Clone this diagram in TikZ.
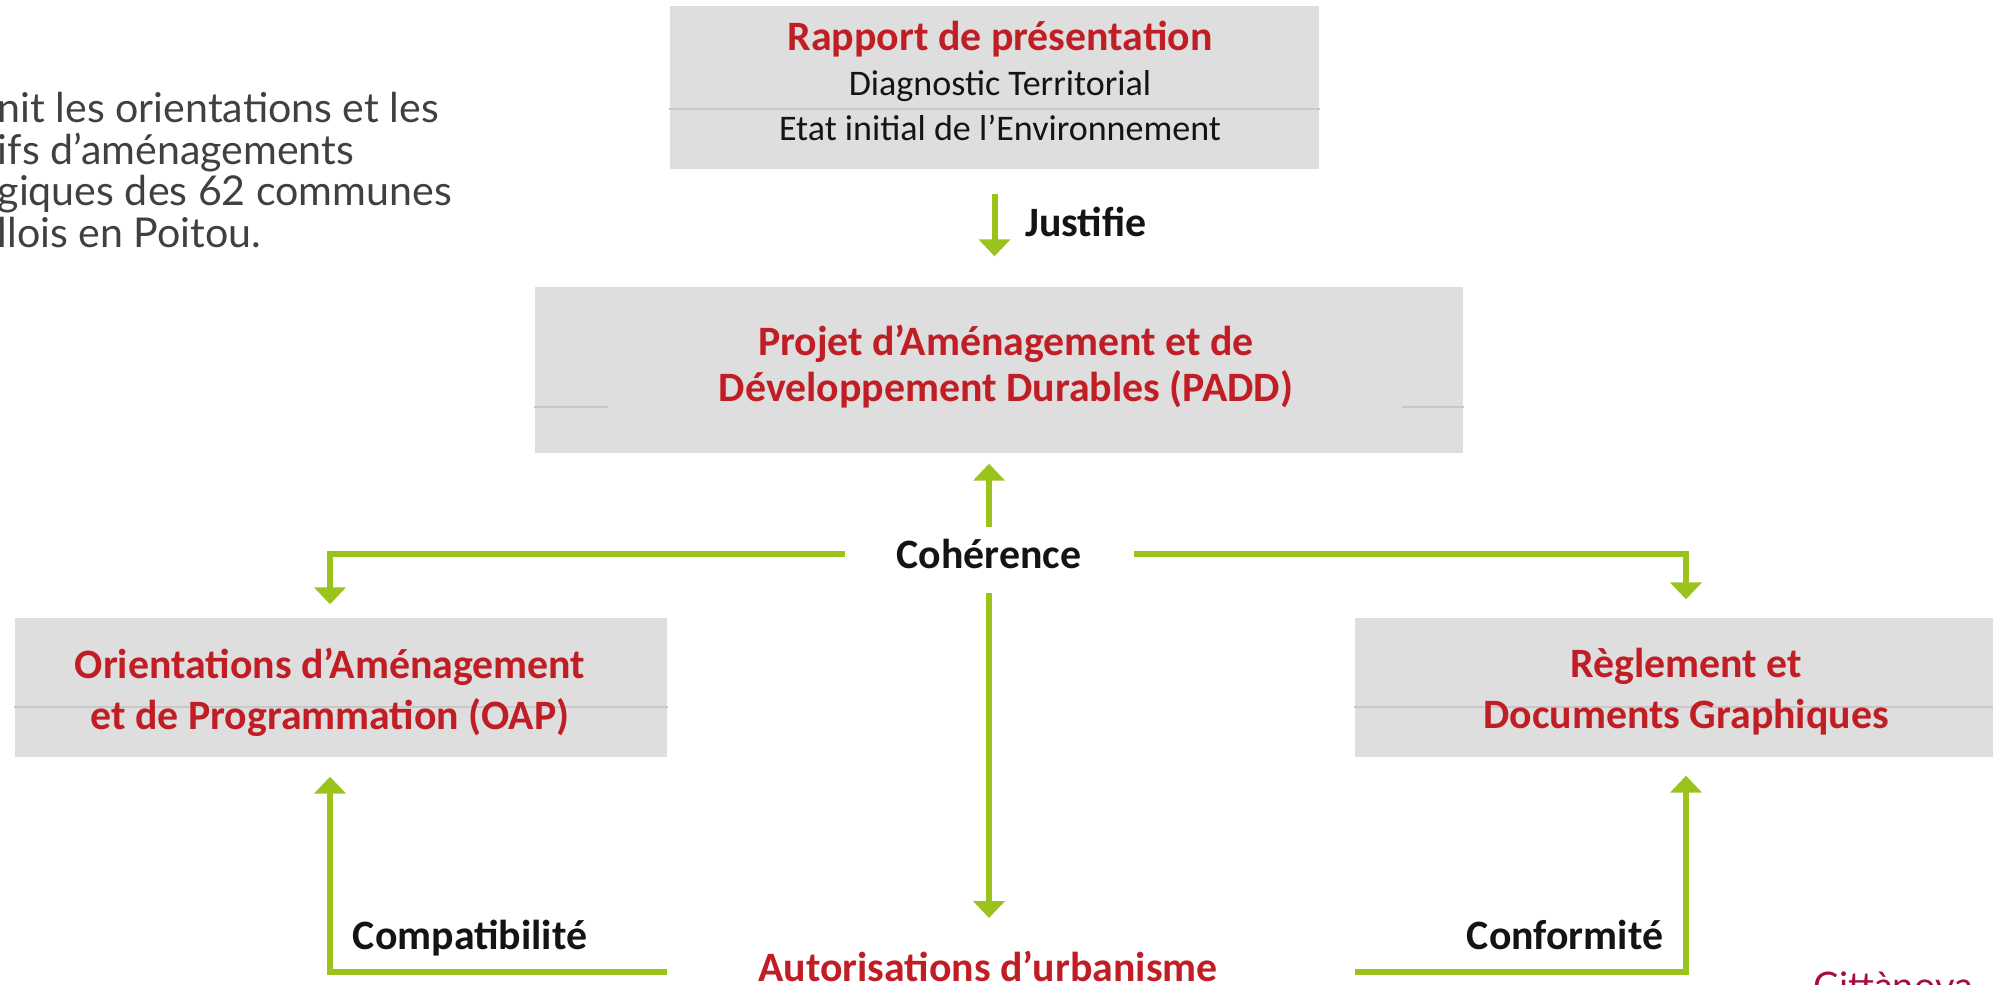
\documentclass[tikz,border=0pt]{standalone}
\usepackage{fontspec}
\setmainfont{Carlito}
\newfontfamily\latofont{Lato}
\usetikzlibrary{arrows.meta}

\definecolor{boxgray}{RGB}{222,222,222}
\definecolor{divgray}{RGB}{200,200,200}
\definecolor{titlered}{RGB}{192,30,36}
\definecolor{arrgreen}{RGB}{154,196,28}
\definecolor{lblblack}{RGB}{20,20,20}
\definecolor{introgray}{RGB}{64,64,64}
\definecolor{cittared}{RGB}{163,16,58}

\begin{document}
\begin{tikzpicture}[
    box/.style={fill=boxgray, inner sep=0pt, minimum height=1.39cm},
    title/.style={text=titlered, font=\bfseries\fontsize{11.9}{14.5}\selectfont, align=center, inner sep=0pt},
    lbl/.style={text=lblblack, font=\bfseries\fontsize{11.9}{14.5}\selectfont, inner sep=0pt},
    arr/.style={draw=arrgreen, line width=1.7pt, -{Triangle[width=8.8pt,length=4.8pt]}},
    divider/.style={draw=divgray, line width=0.6pt}
  ]
    \def\yb{-9.72}
    \useasboundingbox (0,0) rectangle (19.93,-9.85);
    \clip (0,0) rectangle (19.93,-9.85);

    \node[anchor=west, align=left, inner sep=0pt, text=introgray,
      font=\latofont\fontsize{11.7}{11.8}\selectfont] (intro) at (-0.03,-1.70)
      {nit les orientations et les\\ifs d’aménagements\\giques des 62 communes\\llois en Poitou.};

    \node[box, minimum width=6.49cm, minimum height=1.63cm] (rapport) at (9.945,-0.875) {};
    \draw[divider] (rapport.west |- 0,-1.09) -- (rapport.east |- 0,-1.09);
    \node[align=center, inner sep=0pt, text=lblblack, font=\fontsize{10.25}{12.8}\selectfont] (rapporttxt) at (10.00,-0.81)
      {\textcolor{titlered}{\bfseries\fontsize{11.9}{12.8}\selectfont Rapport de présentation}\\Diagnostic Territorial\\Etat initial de l’Environnement};

    \node[box, minimum width=9.28cm, minimum height=1.66cm] (padd) at (9.99,-3.70) {};
    \draw[divider] (padd.west |- 0,-4.07) -- (6.08,-4.07);
    \draw[divider] (14.02,-4.07) -- (padd.east |- 0,-4.07);
    \node[title, font=\bfseries\fontsize{11.9}{12.9}\selectfont] (paddtxt) at (10.06,-3.665)
      {Projet d’Aménagement et de\\Développement Durables (PADD)};

    \node[box, minimum width=6.52cm] (oap) at (3.41,-6.875) {};
    \draw[divider] (oap.west |- 0,-7.07) -- (oap.east |- 0,-7.07);
    \node[title] (oaptxt) at (3.30,-6.92) {Orientations d’Aménagement\\et de Programmation (OAP)};

    \node[box, minimum width=6.65cm] (regl) at (16.875,-6.875) {};
    \draw[divider] (regl.west |- 0,-7.07) -- (regl.east |- 0,-7.07);
    \node[title] (regltxt) at (16.86,-6.92) {Règlement et\\Documents Graphiques};

    \node[title] (autor) at (9.88,-9.66) {Autorisations d’urbanisme};

    \node[lbl] (justifie) at (10.86,-2.22) {Justifie};
    \node[lbl] (coh) at (9.89,-5.54) {Cohérence};
    \node[lbl] (compat) at (4.70,-9.38) {Compatibilité};
    \node[lbl] (conform) at (15.65,-9.35) {Conformité};

    \coordinate (autl) at (6.67,\yb);
    \coordinate (autr) at (13.55,\yb);

    \draw[arr, shorten <=0.24cm, shorten >=0.30cm] (rapport.south) -- (rapport.south |- padd.north);
    \draw[arr, shorten <=0.27cm, shorten >=0.10cm] (coh.center) -- (coh.center |- padd.south);
    \draw[arr, shorten <=0.39cm, shorten >=0.48cm] (coh.center) -- (coh.center |- autor.center);
    \draw[arr, shorten <=1.44cm, shorten >=0.13cm] (coh.center) -| (oaptxt.north |- oap.north);
    \draw[arr, shorten <=1.45cm, shorten >=0.18cm] (coh.center) -| (regltxt.north |- regl.north);
    \draw[arr, shorten >=0.19cm] (autl) -| (oaptxt.south |- oap.south);
    \draw[arr, shorten >=0.18cm] (autr) -| (regltxt.south |- regl.south);

    \node[anchor=base west, inner sep=0pt, text=cittared,
      font=\latofont\fontsize{10.8}{12}\selectfont] (brand) at (18.13,-9.99) {Cittànova};
  \end{tikzpicture}
\end{document}
